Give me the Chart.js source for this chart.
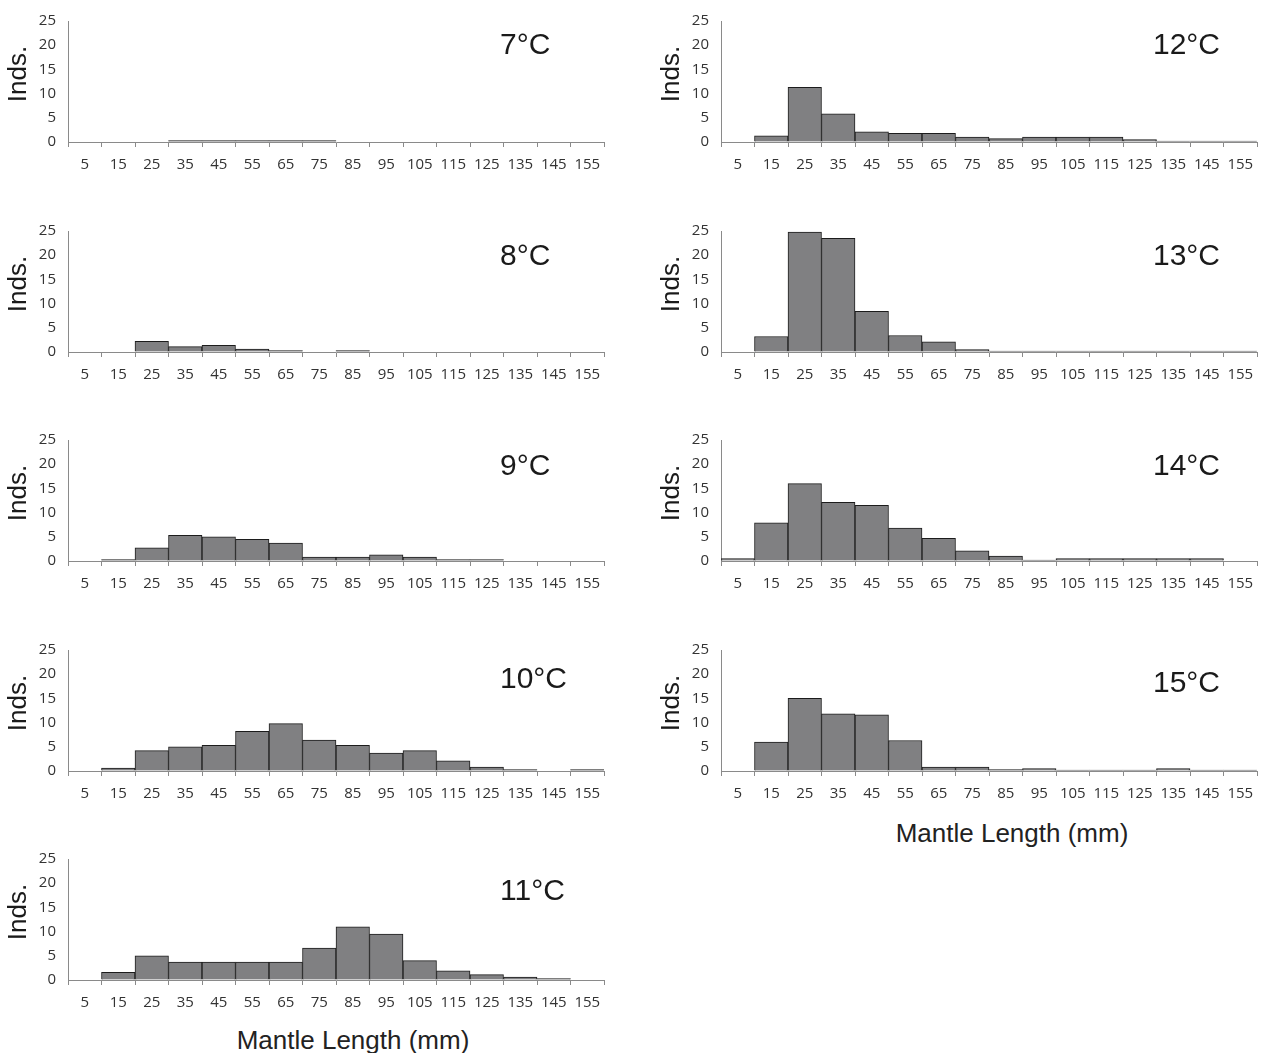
<!DOCTYPE html>
<html>
<head>
<meta charset="utf-8">
<script src="https://cdn.jsdelivr.net/npm/chart.js@4/dist/chart.umd.min.js"></script>
<style>
  body { margin: 0; background: #fff; }
  #wrap { position: relative; width: 1262px; height: 1053px; overflow: hidden; }
  #wrap canvas { position: absolute; }
  .xlab { position: absolute; font: 26px "Liberation Sans", Arial, sans-serif; color: #222; transform: translate(-50%, -50%); white-space: nowrap; }
</style>
</head>
<body>
<div id="wrap">
  <div class="xlab" style="left:353px; top:1040px;">Mantle Length (mm)</div>
  <div class="xlab" style="left:1012px; top:833px;">Mantle Length (mm)</div>
</div>
<script>
// size classes (mm)
const bins = ['5', '15', '25', '35', '45', '55', '65', '75', '85', '95', '105', '115', '125', '135', '145', '155'];
const yTicks = [0, 5, 10, 15, 20, 25];

// individuals per class
const t7  = [0, 0, 0, 0.3, 0.3, 0.3, 0.3, 0.3, 0, 0, 0, 0, 0, 0, 0, 0];
const t8  = [0, 0, 2.2, 1.1, 1.4, 0.6, 0.3, 0, 0.3, 0, 0, 0, 0, 0, 0, 0];
const t9  = [0, 0.3, 2.7, 5.3, 5.0, 4.5, 3.7, 0.8, 0.8, 1.3, 0.8, 0.3, 0.3, 0, 0, 0];
const t10 = [0, 0.6, 4.2, 5.0, 5.3, 8.2, 9.8, 6.4, 5.3, 3.7, 4.2, 2.1, 0.8, 0.3, 0, 0.3];
const t11 = [0, 1.6, 5.0, 3.7, 3.7, 3.7, 3.7, 6.6, 11.0, 9.5, 4.0, 1.9, 1.1, 0.6, 0.3, 0];
const t12 = [0, 1.3, 11.3, 5.8, 2.1, 1.8, 1.8, 1.0, 0.7, 1.0, 1.0, 1.0, 0.5, 0.2, 0.2, 0.2];
const t13 = [0, 3.2, 24.8, 23.5, 8.4, 3.4, 2.1, 0.5, 0.2, 0.2, 0.2, 0.2, 0.2, 0.2, 0.2, 0.2];
const t14 = [0.5, 7.9, 16.0, 12.1, 11.5, 6.8, 4.7, 2.1, 1.0, 0.2, 0.5, 0.5, 0.5, 0.5, 0.5, 0];
const t15 = [0, 6.0, 15.0, 11.8, 11.6, 6.3, 0.8, 0.8, 0.3, 0.5, 0.2, 0.2, 0.2, 0.5, 0.2, 0.2];

const panels = [
  { temp: '7°C',  data: t7,  left: 0,   top: 0,   ty: 25 },
  { temp: '8°C',  data: t8,  left: 0,   top: 210, ty: 26 },
  { temp: '9°C',  data: t9,  left: 0,   top: 419, ty: 27 },
  { temp: '10°C', data: t10, left: 0,   top: 629, ty: 30 },
  { temp: '11°C', data: t11, left: 0,   top: 838, ty: 33 },
  { temp: '12°C', data: t12, left: 653, top: 0,   ty: 25 },
  { temp: '13°C', data: t13, left: 653, top: 210, ty: 26 },
  { temp: '14°C', data: t14, left: 653, top: 419, ty: 27 },
  { temp: '15°C', data: t15, left: 653, top: 629, ty: 34 }
];

// temperature label and rotated "Inds." title
const panelText = {
  id: 'panelText',
  afterDraw(chart, args, opts) {
    const ctx = chart.ctx;
    const top = chart.chartArea.top;
    ctx.save();
    ctx.fillStyle = '#1a1a1a';
    ctx.textBaseline = 'middle';
    ctx.font = '30px "Liberation Sans", Arial, sans-serif';
    ctx.fillText(opts.temp, 500, top + opts.ty);
    ctx.translate(19, top + 53);
    ctx.rotate(-Math.PI / 2);
    ctx.textAlign = 'center';
    ctx.font = '26px "Liberation Sans", Arial, sans-serif';
    ctx.fillText('Inds.', 0, 0);
    ctx.restore();
  }
};

const wrap = document.getElementById('wrap');

panels.forEach(p => {
  const cv = document.createElement('canvas');
  cv.width = 610;
  cv.height = 190;
  cv.style.left = p.left + 'px';
  cv.style.top = p.top + 'px';
  wrap.appendChild(cv);

  new Chart(cv.getContext('2d'), {
    type: 'bar',
    data: {
      labels: bins,
      datasets: [{
        data: p.data,
        backgroundColor: '#808082',
        borderColor: '#1c1c1c',
        borderWidth: 1,
        barPercentage: 1,
        categoryPercentage: 1
      }]
    },
    options: {
      responsive: false,
      animation: false,
      devicePixelRatio: 1,
      layout: { padding: { top: 17, right: 6, left: 0, bottom: 0 } },
      plugins: {
        legend: { display: false },
        tooltip: { enabled: false },
        panelText: { temp: p.temp, ty: p.ty }
      },
      scales: {
        x: {
          offset: true,
          grid: { offset: true, drawOnChartArea: false, drawTicks: true, tickLength: 5, color: '#8a8a8a' },
          border: { color: '#8a8a8a', width: 1 },
          ticks: { color: '#333', font: { family: '"Open Sans", sans-serif', size: 15 }, padding: 9, maxRotation: 0, autoSkip: false },
          afterFit(scale) { scale.height = 48; }
        },
        y: {
          min: 0,
          max: 25,
          afterBuildTicks(scale) { scale.ticks = yTicks.map(v => ({ value: v })); },
          grid: { drawOnChartArea: false, drawTicks: false },
          border: { color: '#8a8a8a', width: 1 },
          ticks: { color: '#333', font: { family: '"Open Sans", sans-serif', size: 15 }, padding: 12 },
          afterFit(scale) { scale.width = 68; }
        }
      }
    },
    plugins: [panelText]
  });
});
</script>
</body>
</html>
